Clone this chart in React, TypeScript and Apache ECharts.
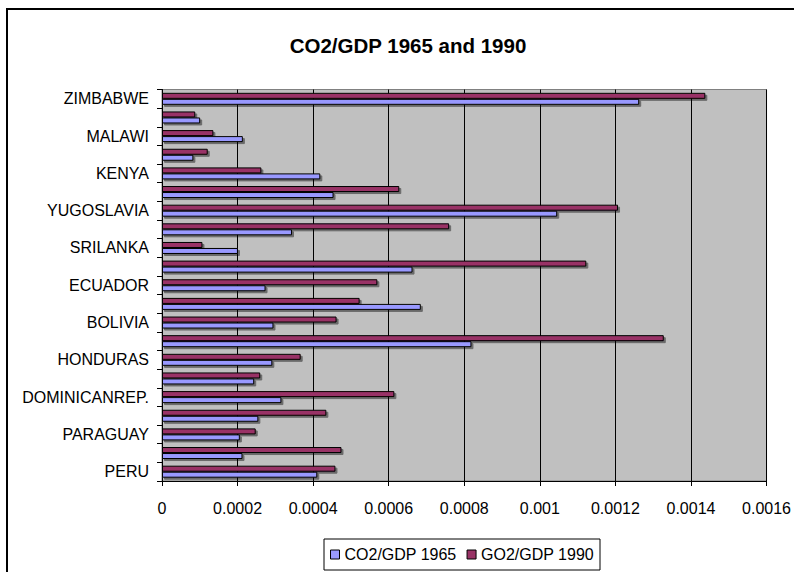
import React, { useEffect, useRef } from "react";
import * as echarts from "echarts";

const categories = [
  "PERU", "COLOMBIA", "PARAGUAY", "EL SALVADOR", "DOMINICANREP.", "GUATEMALA",
  "HONDURAS", "JAMAICA", "BOLIVIA", "BRAZIL", "ECUADOR", "PHILIPPINES",
  "SRILANKA", "THAILAND", "YUGOSLAVIA", "TANZANIA", "KENYA", "ZAMBIA",
  "MALAWI", "UGANDA", "ZIMBABWE",
];
const co2gdp1965 = [
  0.000411, 0.000213, 0.000206, 0.000255, 0.000316, 0.000244, 0.000292,
  0.000819, 0.000295, 0.000685, 0.000274, 0.000663, 0.000201, 0.000344,
  0.001046, 0.000454, 0.000419, 0.000083, 0.000214, 0.000101, 0.001263,
];
const co2gdp1990 = [
  0.000459, 0.000475, 0.000248, 0.000435, 0.000615, 0.00026, 0.000367,
  0.001328, 0.000462, 0.000523, 0.00057, 0.001123, 0.000107, 0.00076,
  0.001207, 0.000628, 0.000263, 0.000121, 0.000136, 0.000088, 0.001438,
];
const seriesNames = ["CO2/GDP 1965", "GO2/GDP 1990"];
const titleText = "CO2/GDP 1965 and 1990";

const FONT = "'Liberation Sans', Arial, sans-serif";

export default function App() {
  const ref = useRef<HTMLDivElement>(null);
  useEffect(() => {
    if (!ref.current) return;
    const chart = echarts.init(ref.current, null, { renderer: "svg" });
    const shadow = {
      shadowColor: "rgba(0,0,0,0.45)",
      shadowOffsetX: 2,
      shadowOffsetY: 2,
      shadowBlur: 0,
    };
    chart.setOption({
      animation: false,
      backgroundColor: "#ffffff",
      textStyle: { fontFamily: FONT },
      graphic: [
        {
          type: "rect",
          shape: { x: 7, y: 9, width: 900, height: 700 },
          style: { fill: "none", stroke: "#000", lineWidth: 2 },
          silent: true,
        },
      ],
      title: {
        text: titleText,
        left: 403,
        top: 30,
        textAlign: "center",
        textStyle: { fontFamily: FONT, fontSize: 20.5, fontWeight: "bold", color: "#000" },
      },
      legend: {
        data: seriesNames,
        left: 324,
        top: 539,
        orient: "horizontal",
        padding: [6, 6, 6, 6],
        itemGap: 10,
        itemWidth: 9,
        itemHeight: 9,
        icon: "rect",
        borderColor: "#000",
        borderWidth: 1,
        textStyle: { fontFamily: FONT, fontSize: 16, color: "#000", lineHeight: 19 },
        itemStyle: { borderColor: "#000", borderWidth: 1, shadowBlur: 0, shadowOffsetX: 0, shadowOffsetY: 0 },
      },
      grid: {
        left: 162,
        right: 27,
        top: 89.5,
        bottom: 91,
        show: true,
        backgroundColor: "#C0C0C0",
        borderColor: "#808080",
        borderWidth: 1,
      },
      xAxis: {
        type: "value",
        min: 0,
        max: 0.0016,
        interval: 0.0002,
        axisLine: { show: true, lineStyle: { color: "#000", width: 1 } },
        axisTick: { show: true, length: 5, lineStyle: { color: "#000" } },
        splitLine: { show: true, lineStyle: { color: "#000", width: 1 } },
        axisLabel: {
          margin: 19,
          fontFamily: FONT,
          fontSize: 16,
          color: "#000",
          formatter: (v: number) => String(+v.toFixed(6)),
        },
      },
      yAxis: {
        type: "category",
        data: categories,
        boundaryGap: true,
        axisLine: { show: true, lineStyle: { color: "#000", width: 1 } },
        axisTick: { show: true, interval: 0, length: 5, lineStyle: { color: "#000" } },
        splitLine: { show: false },
        axisLabel: {
          interval: 1,
          margin: 13,
          fontFamily: FONT,
          fontSize: 16,
          color: "#000",
        },
      },
      series: [
        {
          name: seriesNames[1],
          type: "bar",
          data: co2gdp1990,
          barWidth: 6,
          barGap: "0%",
          itemStyle: { color: "#993366", borderColor: "#000", borderWidth: 1, ...shadow },
        },
        {
          name: seriesNames[0],
          type: "bar",
          data: co2gdp1965,
          barWidth: 6,
          barGap: "0%",
          itemStyle: { color: "#9999FF", borderColor: "#000", borderWidth: 1, ...shadow },
        },
      ],
    });
    return () => chart.dispose();
  }, []);
  return (
    <div
      ref={ref}
      style={{ position: "fixed", left: 0, top: 0, width: 794, height: 572 }}
    />
  );
}
